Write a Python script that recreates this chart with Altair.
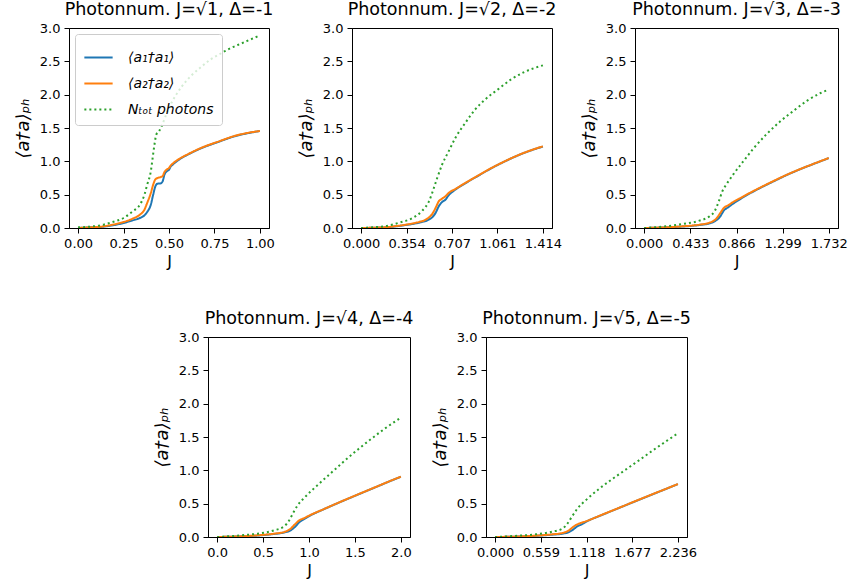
import altair as alt
import numpy as np
import pandas as pd

# Series labels and tab10 colours
SERIES = ["⟨a₁†a₁⟩", "⟨a₂†a₂⟩", "Nₜₒₜ photons"]
COLORS = ["#1f77b4", "#ff7f0e", "#2ca02c"]
DASHES = [[1, 0], [1, 0], [2, 3]]

# ---- panel 1: J max = sqrt(1), Delta = -1 ----
p1_x = [0, 0.07, 0.14, 0.19, 0.25, 0.30, 0.34, 0.365, 0.38, 0.40, 0.413, 0.425, 0.437,
        0.455, 0.465, 0.475, 0.487, 0.50, 0.51, 0.52, 0.555, 0.61, 0.68, 0.77, 0.86, 0.93, 1.0]
p1_a1 = [0.0, 0.01, 0.02, 0.04, 0.075, 0.115, 0.15, 0.19, 0.24, 0.35, 0.50, 0.625, 0.665,
         0.67, 0.70, 0.80, 0.85, 0.875, 0.925, 0.95, 1.025, 1.11, 1.20, 1.29, 1.375, 1.42, 1.455]
p1_a2 = [0.0, 0.01, 0.025, 0.05, 0.09, 0.14, 0.20, 0.275, 0.375, 0.525, 0.65, 0.73, 0.75,
         0.765, 0.78, 0.84, 0.875, 0.90, 0.94, 0.965, 1.035, 1.115, 1.205, 1.295, 1.38, 1.425, 1.455]
p1_xt = [0, 0.065, 0.14, 0.19, 0.25, 0.30, 0.34, 0.365, 0.38, 0.40, 0.41, 0.42, 0.43, 0.445,
         0.46, 0.48, 0.50, 0.535, 0.57, 0.62, 0.67, 0.73, 0.78, 0.84, 0.90, 0.95, 1.0]
p1_nt = [0.01, 0.02, 0.05, 0.09, 0.15, 0.25, 0.35, 0.50, 0.65, 0.85, 1.05, 1.25, 1.40, 1.45,
         1.53, 1.67, 1.80, 1.98, 2.12, 2.28, 2.40, 2.53, 2.61, 2.70, 2.77, 2.83, 2.89]

# ---- panel 2: J max = sqrt(2), Delta = -2 ----
p2_x = [0, 0.1, 0.195, 0.27, 0.348, 0.40, 0.45, 0.515, 0.553, 0.579, 0.604, 0.63, 0.656,
        0.681, 0.733, 0.81, 0.912, 1.014, 1.117, 1.219, 1.32, 1.414]
p2_a1 = [0.0, 0.004, 0.011, 0.025, 0.045, 0.06, 0.08, 0.115, 0.16, 0.225, 0.325, 0.39, 0.425,
         0.49, 0.575, 0.67, 0.785, 0.897, 0.998, 1.088, 1.163, 1.222]
p2_a2 = [0.0, 0.004, 0.012, 0.028, 0.05, 0.068, 0.09, 0.14, 0.21, 0.30, 0.40, 0.44, 0.475,
         0.525, 0.585, 0.675, 0.79, 0.90, 1.0, 1.09, 1.165, 1.225]
p2_xt = [0, 0.1, 0.195, 0.297, 0.40, 0.476, 0.528, 0.566, 0.592, 0.63, 0.681, 0.733, 0.81,
         0.886, 0.963, 1.065, 1.168, 1.27, 1.414]
p2_nt = [0.0, 0.012, 0.03, 0.08, 0.15, 0.26, 0.40, 0.60, 0.75, 0.95, 1.15, 1.35, 1.575,
         1.775, 1.925, 2.08, 2.23, 2.34, 2.44]

# ---- panel 3: J max = sqrt(3), Delta = -3 ----
p3_x = [0, 0.2, 0.36, 0.518, 0.613, 0.676, 0.714, 0.746, 0.787, 0.834, 0.897, 0.96, 1.087,
        1.214, 1.34, 1.466, 1.593, 1.732]
p3_a1 = [0.0, 0.01, 0.022, 0.045, 0.07, 0.115, 0.175, 0.26, 0.31, 0.365, 0.43, 0.49, 0.60,
         0.70, 0.797, 0.883, 0.963, 1.048]
p3_a2 = [0.0, 0.01, 0.025, 0.05, 0.08, 0.14, 0.225, 0.30, 0.34, 0.39, 0.445, 0.50, 0.605,
         0.705, 0.80, 0.885, 0.965, 1.05]
p3_xt = [0, 0.2, 0.36, 0.518, 0.613, 0.66, 0.70, 0.733, 0.77, 0.834, 0.93, 1.024, 1.15,
         1.277, 1.403, 1.53, 1.656, 1.732]
p3_nt = [0.0, 0.025, 0.06, 0.11, 0.175, 0.25, 0.40, 0.55, 0.65, 0.80, 1.0, 1.19, 1.41,
         1.60, 1.76, 1.91, 2.025, 2.075]

# ---- panel 4: J max = sqrt(4), Delta = -4 ----
p4_x = [0, 0.258, 0.44, 0.62, 0.73, 0.80, 0.847, 0.894, 0.95, 0.985, 1.167, 1.35, 1.53,
        1.713, 1.895, 2.0]
p4_a1 = [0.0, 0.009, 0.022, 0.045, 0.068, 0.10, 0.15, 0.22, 0.27, 0.30, 0.42, 0.53, 0.635,
         0.74, 0.845, 0.903]
p4_a2 = [0.0, 0.01, 0.025, 0.05, 0.075, 0.125, 0.19, 0.25, 0.285, 0.31, 0.422, 0.532, 0.637,
         0.742, 0.847, 0.905]
p4_xt = [0, 0.258, 0.44, 0.62, 0.73, 0.785, 0.833, 0.876, 0.95, 1.095, 1.24, 1.385, 1.53,
         1.676, 1.82, 2.0]
p4_nt = [0.0, 0.025, 0.05, 0.10, 0.16, 0.25, 0.375, 0.475, 0.59, 0.78, 0.96, 1.14, 1.31,
         1.47, 1.62, 1.79]

# ---- panel 5: J max = sqrt(5), Delta = -5 ----
p5_x = [0, 0.293, 0.497, 0.70, 0.823, 0.904, 0.953, 1.006, 1.06, 1.108, 1.31, 1.515, 1.72,
        1.922, 2.126, 2.236]
p5_a1 = [0.0, 0.007, 0.018, 0.035, 0.05, 0.075, 0.11, 0.16, 0.19, 0.225, 0.332, 0.435, 0.538,
         0.638, 0.738, 0.793]
p5_a2 = [0.0, 0.008, 0.02, 0.04, 0.06, 0.10, 0.15, 0.19, 0.215, 0.235, 0.335, 0.437, 0.54,
         0.64, 0.74, 0.795]
p5_xt = [0, 0.293, 0.497, 0.70, 0.823, 0.884, 0.937, 1.006, 1.108, 1.27, 1.434, 1.597, 1.76,
         1.92, 2.085, 2.236]
p5_nt = [0.0, 0.02, 0.04, 0.08, 0.125, 0.20, 0.30, 0.425, 0.55, 0.72, 0.87, 1.01, 1.15,
         1.29, 1.43, 1.555]

PANELS = [
    (1, ".2f", p1_x, p1_a1, p1_a2, p1_xt, p1_nt, 200),
    (2, ".3f", p2_x, p2_a1, p2_a2, p2_xt, p2_nt, 200),
    (3, ".3f", p3_x, p3_a1, p3_a2, p3_xt, p3_nt, 203),
    (4, ".1f", p4_x, p4_a1, p4_a2, p4_xt, p4_nt, 202),
    (5, ".3f", p5_x, p5_a1, p5_a2, p5_xt, p5_nt, 201),
]

FONT = "DejaVu Sans"
Y_TICKS = [0.0, 0.5, 1.0, 1.5, 2.0, 2.5, 3.0]


def make_panel(n, fmt, x, a1, a2, xt, nt, width, show_legend):
    rows = []
    for xi, v in zip(x, a1):
        rows.append({"J": xi, "v": v, "s": SERIES[0]})
    for xi, v in zip(x, a2):
        rows.append({"J": xi, "v": v, "s": SERIES[1]})
    for xi, v in zip(xt, nt):
        rows.append({"J": xi, "v": v, "s": SERIES[2]})
    df = pd.DataFrame(rows)

    xmax = float(np.sqrt(n))
    ticks = [xmax * k / 4 for k in range(5)]

    if show_legend:
        legend = alt.Legend(
            orient="top-left", offset=6, title=None,
            fillColor="rgba(255,255,255,0.8)", strokeColor="#cccccc", cornerRadius=3,
            padding=8, labelFont=FONT, labelFontSize=14, labelFontStyle="italic",
            labelColor="black", symbolType="stroke", symbolStrokeWidth=2,
            symbolSize=800, labelOffset=14, rowPadding=3,
        )
    else:
        legend = None

    return alt.Chart(df).mark_line(strokeWidth=2, interpolate="monotone", clip=True).encode(
        x=alt.X("J:Q",
                scale=alt.Scale(domain=[-0.05 * xmax, 1.05 * xmax], nice=False, zero=False),
                axis=alt.Axis(values=ticks, format=fmt, title="J", titleFontSize=16,
                              titlePadding=3)),
        y=alt.Y("v:Q", scale=alt.Scale(domain=[0, 3], nice=False),
                axis=alt.Axis(values=Y_TICKS, format=".1f", title="⟨a†a⟩ₚₕ",
                              titleFontStyle="italic", titleFontSize=18, titlePadding=7)),
        color=alt.Color("s:N", scale=alt.Scale(domain=SERIES, range=COLORS), legend=legend),
        strokeDash=alt.StrokeDash("s:N", scale=alt.Scale(domain=SERIES, range=DASHES),
                                  legend=legend),
    ).properties(
        width=width, height=200,
        title=alt.TitleParams(f"Photonnum. J=√{n}, Δ=-{n}", fontSize=17.5, font=FONT,
                              fontWeight="normal", offset=4, color="black"),
    )


charts = [make_panel(*p, show_legend=(i == 0)) for i, p in enumerate(PANELS)]

# Empty, invisible cell that indents the second row
indent = alt.Chart(pd.DataFrame({"u": [0]})).mark_point(opacity=0).encode(
    x=alt.X("u:Q", axis=None),
    y=alt.Y("u:Q", axis=None),
).properties(width=63, height=200, view=alt.ViewBackground(stroke="transparent"))


def indep(c):
    return c.resolve_scale(color="independent", strokeDash="independent")


top = indep(alt.hconcat(charts[0], charts[1], charts[2], spacing=83, bounds="flush"))
bottom = indep(alt.hconcat(indent, charts[3], charts[4], spacing=76, bounds="flush"))

chart = indep(alt.vconcat(top, bottom, spacing=39)).properties(
    padding={"left": 13, "top": 0, "right": 2, "bottom": 2},
    background="white",
).configure_view(
    stroke="black", strokeWidth=1,
).configure_axis(
    grid=False, domainColor="black", tickColor="black", tickSize=5, labelPadding=4,
    labelFont=FONT, labelFontSize=13, labelColor="black",
    titleFont=FONT, titleFontWeight="normal", titleColor="black",
)

chart.save("out.html", embed_options={"renderer": "svg", "actions": False})
